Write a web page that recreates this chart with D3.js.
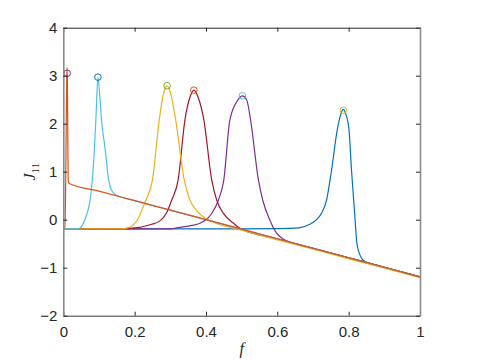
<!DOCTYPE html>
<html>
<head>
<meta charset="utf-8">
<script src="https://cdn.jsdelivr.net/npm/d3@7"></script>
<style>
  body { margin: 0; background: #fff; }
  #chart { width: 485px; height: 360px; }
</style>
</head>
<body>
<div id="chart"></div>
<script>
//Ticks
const fTicks = [0, 0.2, 0.4, 0.6, 0.8, 1];
const jTicks = [-2, -1, 0, 1, 2, 3, 4];

//Curvas (f, J11)
const fBlue = [0, 0.5, 0.6, 0.66, 0.69, 0.71, 0.725, 0.738, 0.752, 0.768, 0.778, 0.785, 0.792, 0.801, 0.808, 0.814, 0.818, 0.823, 0.836, 0.848, 0.86, 0.9, 1];
const jBlue = [-0.19, -0.19, -0.185, -0.17, -0.1, 0.0, 0.15, 0.41, 1.03, 1.87, 2.2, 2.3, 2.2, 1.87, 1.03, 0.41, 0.0, -0.49, -0.8, -0.88, -0.91, -0.99, -1.19];

const fPurple = [0, 0.3, 0.327, 0.36, 0.383, 0.405, 0.416, 0.435, 0.45, 0.467, 0.49, 0.502, 0.514, 0.525, 0.547, 0.559, 0.579, 0.598, 0.612, 0.626, 0.7, 0.8, 0.9, 1];
const jPurple = [-0.19, -0.19, -0.16, -0.12, -0.075, 0.03, 0.13, 0.41, 0.83, 2.08, 2.5, 2.58, 2.5, 2.08, 0.83, 0.41, -0.006, -0.28, -0.38, -0.44, -0.594, -0.792, -0.99, -1.19];

const fRed = [0, 0.16, 0.214, 0.245, 0.27, 0.29, 0.304, 0.322, 0.341, 0.355, 0.366, 0.378, 0.394, 0.416, 0.43, 0.45, 0.477, 0.5, 0.6, 0.7, 0.8, 0.9, 1];
const jRed = [-0.19, -0.19, -0.16, -0.1, -0.03, 0.15, 0.41, 0.83, 2.08, 2.55, 2.70, 2.55, 2.08, 0.83, 0.41, 0.12, -0.075, -0.2, -0.396, -0.594, -0.792, -0.99, -1.19];

const fYellow = [0, 0.16, 0.18, 0.2, 0.212, 0.22, 0.232, 0.25, 0.269, 0.28, 0.291, 0.302, 0.315, 0.339, 0.355, 0.375, 0.406, 0.43, 0.5, 0.6, 0.7, 0.8, 0.9, 1];
const jYellow = [-0.19, -0.19, -0.17, -0.08, 0.05, 0.2, 0.41, 0.83, 2.08, 2.6, 2.79, 2.6, 2.08, 0.83, 0.41, 0.18, 0.0, -0.08, -0.22, -0.42, -0.615, -0.815, -1.01, -1.21];

const fCyan = [0, 0.04, 0.048, 0.056, 0.063, 0.07, 0.076, 0.082, 0.087, 0.092, 0.097, 0.102, 0.108, 0.115, 0.12, 0.124, 0.131, 0.14, 0.152, 0.165, 0.2, 0.3, 0.4, 0.5, 0.6, 0.7, 0.8, 0.9, 1];
const jCyan = [-0.19, -0.19, -0.17, -0.08, 0.05, 0.22, 0.45, 0.9, 1.45, 2.2, 2.97, 2.6, 2.0, 1.6, 1.3, 1.0, 0.7, 0.56, 0.5, 0.465, 0.396, 0.198, 0.0, -0.198, -0.396, -0.594, -0.792, -0.99, -1.19];

const fOrange = [0, 0.004, 0.006, 0.008, 0.0095, 0.0105, 0.0115, 0.0125, 0.014, 0.016, 0.1, 0.2, 0.3, 0.4, 0.5, 0.6, 0.7, 0.8, 0.9, 1];
const jOrange = [-0.19, -0.18, 0.3, 1.8, 2.9, 3.17, 2.9, 1.8, 0.8, 0.76, 0.594, 0.396, 0.198, 0.0, -0.198, -0.396, -0.594, -0.792, -0.99, -1.19];

//Maximos marcados
const markF = [0.011, 0.097, 0.291, 0.366, 0.502, 0.785];
const markJ = [3.05, 2.97, 2.79, 2.70, 2.58, 2.28];
const markColors = ['#7E2F8E', '#0072BD', '#77AC30', '#D95319', '#4DBEEE', '#EDB120'];

//Orden de dibujo (abajo -> arriba)
const series = [
    { f: fBlue, j: jBlue, color: '#0072BD' },
    { f: fPurple, j: jPurple, color: '#7E2F8E' },
    { f: fRed, j: jRed, color: '#A2142F' },
    { f: fYellow, j: jYellow, color: '#EDB120' },
    { f: fCyan, j: jCyan, color: '#4DBEEE' },
    { f: fOrange, j: jOrange, color: '#D95319' }
];

let margin = {top: 27.7, right: 65, bottom: 44.3, left: 63.3},
    width = 485 - margin.left - margin.right,
    height = 360 - margin.top - margin.bottom;

let svg = d3.select('#chart')
    .append('svg')
      .attr('width', 485)
      .attr('height', 360)
    .append('g')
      .attr('transform', 'translate(' + margin.left + ',' + margin.top + ')');

let x = d3.scaleLinear().domain([0, 1]).range([0, width]);
let y = d3.scaleLinear().domain([-2, 4]).range([height, 0]);

svg.append('clipPath').attr('id', 'clip')
    .append('rect').attr('width', width).attr('height', height);

let line = d3.line()
    .x(function(d) { return x(d[0]); })
    .y(function(d) { return y(d[1]); })
    .curve(d3.curveMonotoneX);

let plot = svg.append('g').attr('clip-path', 'url(#clip)');

series.forEach(function(s) {
    plot.append('path')
        .datum(s.f.map(function(v, i) { return [v, s.j[i]]; }))
        .attr('fill', 'none')
        .attr('stroke', s.color)
        .attr('stroke-width', 1.2)
        .attr('d', line);
});

svg.selectAll('.mark')
    .data(markF)
    .enter()
    .append('circle')
    .attr('class', 'mark')
    .attr('cx', function(d) { return x(d); })
    .attr('cy', function(d, i) { return y(markJ[i]); })
    .attr('r', 3.3)
    .attr('fill', 'none')
    .attr('stroke', function(d, i) { return markColors[i]; })
    .attr('stroke-width', 1);

//Ejes estilo MATLAB
function styleAxis(g, stroke, sw) {
    g.select('.domain').attr('stroke', stroke).attr('stroke-width', sw);
    g.selectAll('.tick line').attr('stroke', '#262626').attr('stroke-width', 1);
    g.selectAll('text')
        .attr('fill', '#262626')
        .style('font-family', '"Liberation Sans", Arial, Helvetica, sans-serif')
        .style('font-size', '15px');
}

svg.append('g')
    .attr('transform', 'translate(0,' + height + ')')
    .call(d3.axisBottom(x).tickValues(fTicks).tickFormat(d3.format('~g'))
        .tickSizeInner(-4).tickSizeOuter(0).tickPadding(11))
    .call(function(g) { styleAxis(g, '#3a3a3a', 1); });

svg.append('g')
    .call(d3.axisTop(x).tickValues(fTicks).tickFormat('')
        .tickSizeInner(-4).tickSizeOuter(0))
    .call(function(g) { styleAxis(g, '#2a2a2a', 1); });

svg.append('g')
    .call(d3.axisLeft(y).tickValues(jTicks).tickFormat(d3.format('d'))
        .tickSizeInner(-4).tickSizeOuter(0).tickPadding(6))
    .call(function(g) { styleAxis(g, '#8a8a8a', 1.6); });

svg.append('g')
    .attr('transform', 'translate(' + width + ',0)')
    .call(d3.axisRight(y).tickValues(jTicks).tickFormat('')
        .tickSizeInner(-4).tickSizeOuter(0))
    .call(function(g) { styleAxis(g, '#8a8a8a', 1.6); });

//Etiquetas
svg.append('text')
    .attr('x', width / 2)
    .attr('y', height + 38)
    .attr('text-anchor', 'middle')
    .attr('fill', '#262626')
    .style('font-family', '"Liberation Serif", "DejaVu Serif", serif')
    .style('font-style', 'italic')
    .style('font-size', '16px')
    .text('f');

let yl = svg.append('text')
    .attr('transform', 'translate(-28,' + (height / 2) + ') rotate(-90)')
    .attr('text-anchor', 'middle')
    .attr('fill', '#262626')
    .style('font-family', '"Liberation Serif", "DejaVu Serif", serif')
    .style('font-size', '16px');
yl.append('tspan').style('font-style', 'italic').text('J');
yl.append('tspan').attr('dy', 4).style('font-size', '11px').text('11');
</script>
</body>
</html>
